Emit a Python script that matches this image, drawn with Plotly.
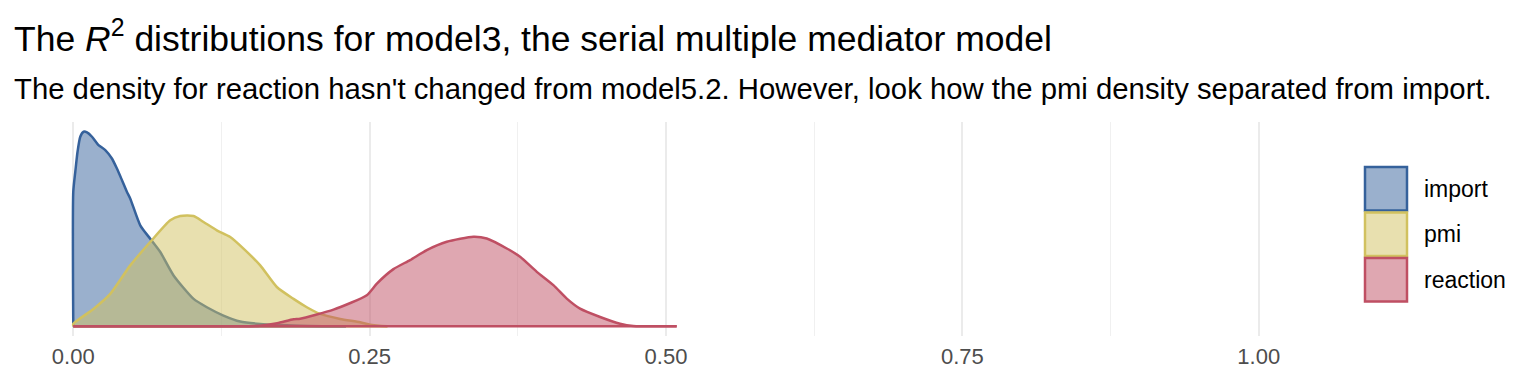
import plotly.graph_objects as go

# ---- data ----
groups = ["import", "pmi", "reaction"]

import_x = [0.0, 0.0, 0.0017, 0.0036, 0.0059, 0.0087, 0.0116, 0.0158, 0.0213, 0.0270,
            0.0326, 0.0368, 0.0411, 0.0453, 0.0481, 0.0565, 0.0649, 0.0734, 0.0846,
            0.1015, 0.1127, 0.1267, 0.1408, 0.1577, 0.1914, 0.2100, 0.2300]
import_d = [0.0, 9.38, 10.78, 12.18, 13.23, 13.58, 13.53, 13.23, 12.65, 12.30,
            11.71, 11.01, 10.20, 9.38, 8.91, 7.05, 6.11, 5.18, 3.55,
            1.91, 1.33, 0.75, 0.33, 0.16, 0.035, 0.008, 0.0]

pmi_x = [0.0, 0.0, 0.0171, 0.0312, 0.0481, 0.0649, 0.0818, 0.0902, 0.1015, 0.1099,
         0.1211, 0.1324, 0.1436, 0.1577, 0.1717, 0.1858, 0.1970, 0.2083, 0.2251,
         0.2420, 0.2504, 0.2580, 0.2650]
pmi_d = [0.0, 0.17, 1.21, 2.26, 4.25, 5.88, 7.40, 7.70, 7.70, 7.28,
         6.70, 6.23, 5.42, 4.25, 2.74, 1.91, 1.33, 0.86, 0.51,
         0.28, 0.11, 0.03, 0.0]

reaction_x = [0.0, 0.1000, 0.1577, 0.1720, 0.1858, 0.1914, 0.2195, 0.2476, 0.2561,
              0.2701, 0.2841, 0.2982, 0.3151, 0.3375, 0.3488, 0.3657, 0.3769,
              0.3910, 0.4050, 0.4163, 0.4275, 0.4444, 0.4612, 0.4724, 0.5090]
reaction_d = [0.0, 0.0, 0.035, 0.21, 0.49, 0.53, 1.16, 2.17, 2.98,
              3.99, 4.62, 5.32, 5.90, 6.25, 6.13, 5.43, 4.85,
              3.80, 2.87, 1.93, 1.23, 0.65, 0.18, 0.02, 0.0]

series_x = [import_x, pmi_x, reaction_x]
series_d = [import_d, pmi_d, reaction_d]

x_ticks = [0.0, 0.25, 0.5, 0.75, 1.0]
x_ticklabels = ["0.00", "0.25", "0.50", "0.75", "1.00"]

title_text = "The <i>R</i><sup>2</sup> distributions for model3, the serial multiple mediator model"
subtitle_text = ("The density for reaction hasn't changed from model5.2. However, look how the pmi "
                 "density separated from import.")

# ---- styles ----
line_colors = ["#35619B", "#D1C15F", "#BF4F63"]
fill_colors = ["rgba(53,97,155,0.5)", "rgba(209,193,95,0.5)", "rgba(191,79,99,0.5)"]
FONT = "Liberation Sans, Arial, Helvetica, sans-serif"

W, H = 1536, 384
L, R, T, B = 14, 218, 122, 48
plot_w = W - L - R
plot_h = H - T - B


def px_to_paper_x(px):
    return (px - L) / plot_w


def px_to_paper_y(py):
    return (H - B - py) / plot_h


fig = go.Figure()
for name, xs, ds, lc, fc in zip(groups, series_x, series_d, line_colors, fill_colors):
    # density curve, then (after a gap) the baseline under it -> full outline
    px = list(xs) + [None, xs[0], xs[-1]]
    py = list(ds) + [None, 0.0, 0.0]
    fig.add_trace(go.Scatter(
        x=px, y=py, name=name, mode="lines", connectgaps=False,
        line=dict(color=lc, width=2.5, shape="spline", smoothing=0.6),
        fill="tozeroy", fillcolor=fc, showlegend=False, hoverinfo="skip",
    ))

ymax = max(max(d) for d in series_d)

fig.update_layout(
    width=W, height=H,
    margin=dict(l=L, r=R, t=T, b=B),
    paper_bgcolor="white", plot_bgcolor="white",
    font=dict(family=FONT, color="black"),
    showlegend=False,
    xaxis=dict(
        range=[-0.05, 1.05], tickvals=x_ticks, ticktext=x_ticklabels,
        showgrid=True, gridcolor="#EBEBEB", gridwidth=2,
        zeroline=False, showline=False, ticks="",
        tickfont=dict(size=22, color="#4D4D4D", family=FONT),
        ticklabelstandoff=5,
        minor=dict(dtick=0.125, tick0=0, showgrid=True, gridcolor="#F0F0F0", gridwidth=1),
    ),
    yaxis=dict(
        range=[-0.05 * ymax, 1.05 * ymax], showgrid=False, zeroline=False,
        showticklabels=False, ticks="", showline=False,
    ),
)

# title and subtitle
fig.add_annotation(text=title_text, xref="paper", yref="paper",
                   x=px_to_paper_x(12), y=px_to_paper_y(37), xanchor="left", yanchor="middle",
                   showarrow=False, font=dict(size=35.5, color="black", family=FONT))
fig.add_annotation(text=subtitle_text, xref="paper", yref="paper",
                   x=px_to_paper_x(12), y=px_to_paper_y(88), xanchor="left", yanchor="middle",
                   showarrow=False, font=dict(size=29.3, color="black", family=FONT))

# legend (drawn manually, large ggplot-style keys)
key_x0, key_x1 = 1365, 1407
key_tops = [167, 212.5, 258]
key_h = 43.5
for name, lc, fc, top in zip(groups, line_colors, fill_colors, key_tops):
    fig.add_shape(type="rect", xref="paper", yref="paper",
                  x0=px_to_paper_x(key_x0), x1=px_to_paper_x(key_x1),
                  y0=px_to_paper_y(top), y1=px_to_paper_y(top + key_h),
                  line=dict(color=lc, width=2.5), fillcolor=fc, layer="above")
    fig.add_annotation(text=name, xref="paper", yref="paper",
                       x=px_to_paper_x(1422), y=px_to_paper_y(top + key_h / 2),
                       xanchor="left", yanchor="middle", showarrow=False,
                       font=dict(size=23, color="black", family=FONT))

fig.write_html("out.html", config={"displayModeBar": False},
               post_script="document.body.style.margin='0px';")
